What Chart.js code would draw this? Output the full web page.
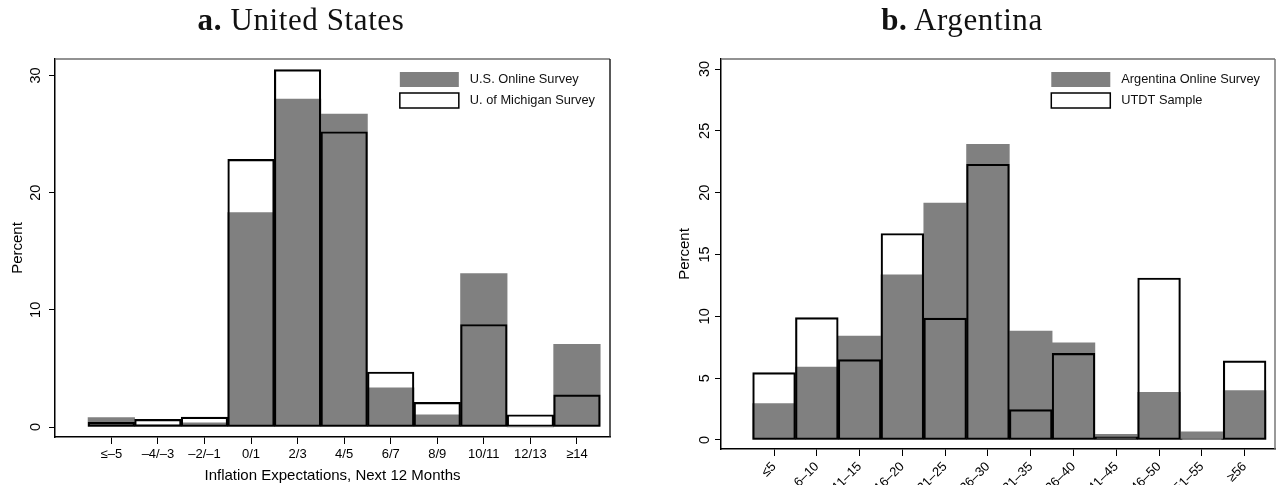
<!DOCTYPE html>
<html>
<head>
<meta charset="utf-8">
<title>Inflation expectations histograms</title>
<script src="https://cdn.jsdelivr.net/npm/chart.js@4.4.0/dist/chart.umd.min.js"></script>
<style>
  html, body { margin: 0; padding: 0; background: #fff; overflow: hidden; }
  #page { position: relative; width: 1280px; height: 485px; }
  .panel { position: absolute; top: 0; width: 640px; height: 485px; }
  .panel canvas { display: block; }
  .title {
    position: absolute; top: 2px; transform: translateX(-50%); white-space: nowrap;
    font-family: "Liberation Serif", "DejaVu Serif", serif; font-size: 31px;
    letter-spacing: 0.6px; color: #111;
  }
</style>
</head>
<body>
<div id="page">
  <div class="panel" style="left:0"><canvas id="usChart" width="640" height="485"></canvas></div>
  <div class="panel" style="left:640px"><canvas id="arChart" width="640" height="485"></canvas></div>
  <div class="title" style="left:301px"><b>a.</b> United States</div>
  <div class="title" style="left:962px"><b>b.</b> Argentina</div>
</div>
<script>
// panel a: United States
const usCategories = ['≤–5', '–4/–3', '–2/–1', '0/1', '2/3', '4/5', '6/7', '8/9', '10/11', '12/13', '≥14'];
const usOnline = [0.8, 0.2, 0.35, 18.3, 28.0, 26.7, 3.35, 1.05, 13.1, 0, 7.05];
const usMichigan = [0.4, 0.65, 0.85, 22.85, 30.5, 25.2, 4.7, 2.1, 8.75, 1.05, 2.75];
const usYTicks = [0, 10, 20, 30];

// panel b: Argentina
const arCategories = ['≤5', '6–10', '11–15', '16–20', '21–25', '26–30', '31–35', '36–40', '41–45', '46–50', '51–55', '≥56'];
const arOnline = [2.95, 5.9, 8.4, 13.35, 19.15, 23.9, 8.8, 7.85, 0.45, 3.85, 0.65, 4.0];
const arUtdt = [5.45, 9.9, 6.5, 16.7, 9.85, 22.3, 2.45, 7.0, 0.25, 13.1, 0.1, 6.4];
const arYTicks = [0, 5, 10, 15, 20, 25, 30];

Chart.defaults.font.family = '"Liberation Sans", Arial, sans-serif';
Chart.defaults.color = '#000';

// top and right edges of the plot region (left/bottom are the axis lines)
const plotFrame = {
  id: 'plotFrame',
  afterDraw(chart, args, opts) {
    const { ctx, chartArea: a } = chart;
    ctx.save();
    ctx.lineWidth = 1.5;
    ctx.strokeStyle = opts.topColor;
    ctx.beginPath(); ctx.moveTo(a.left, a.top); ctx.lineTo(a.right, a.top); ctx.stroke();
    ctx.strokeStyle = opts.rightColor;
    ctx.beginPath(); ctx.moveTo(a.right, a.top); ctx.lineTo(a.right, a.bottom); ctx.stroke();
    ctx.restore();
  }
};

// legend drawn inside the plot, top right
const insideLegend = {
  id: 'insideLegend',
  afterDatasetsDraw(chart) {
    const { ctx, chartArea: a } = chart;
    const sets = chart.data.datasets;
    ctx.save();
    ctx.font = '12.8px "Liberation Sans", Arial, sans-serif';
    const textW = Math.max(...sets.map(d => ctx.measureText(d.label).width));
    const boxW = 59, boxH = 15;
    const textX = a.right - 15 - textW;
    const boxX = textX - 11 - boxW;
    sets.forEach((d, i) => {
      const y = a.top + 13 + i * 21;
      if (d.borderWidth) {
        ctx.lineWidth = 1.5;
        ctx.strokeStyle = d.borderColor;
        ctx.strokeRect(boxX, y, boxW, boxH);
      } else {
        ctx.fillStyle = d.backgroundColor;
        ctx.fillRect(boxX, y, boxW, boxH);
      }
      ctx.fillStyle = '#111';
      ctx.textBaseline = 'middle';
      ctx.fillText(d.label, textX, y + boxH / 2);
    });
    ctx.restore();
  }
};

function histogram(canvasId, o) {
  const toPoints = arr => arr.map((v, i) => ({ x: i, y: v }));
  return new Chart(document.getElementById(canvasId), {
    type: 'bar',
    data: {
      datasets: [
        { label: o.names[0], data: toPoints(o.online), backgroundColor: '#808080', borderWidth: 0, order: 2 },
        { label: o.names[1], data: toPoints(o.other), backgroundColor: 'rgba(0,0,0,0)',
          borderColor: '#000', borderWidth: 1.5, borderSkipped: false, order: 1 }
      ]
    },
    options: {
      responsive: false,
      animation: false,
      layout: { padding: o.padding },
      datasets: { bar: { grouped: false, barPercentage: 1, categoryPercentage: 1 } },
      plugins: {
        legend: { display: false },
        tooltip: { enabled: false },
        plotFrame: { topColor: '#6e6e6e', rightColor: o.rightColor }
      },
      scales: {
        x: {
          type: 'linear',
          offset: false,
          min: o.xMin,
          max: o.xMax,
          afterBuildTicks: s => { s.ticks = o.categories.map((c, i) => ({ value: i })); },
          afterFit: s => { s.height = o.xHeight; },
          grid: { offset: false, drawOnChartArea: false, tickLength: 7, color: '#000' },
          border: { color: '#000', width: 1.5 },
          ticks: {
            callback: v => o.categories[v],
            autoSkip: false,
            minRotation: o.xRot,
            maxRotation: o.xRot,
            padding: 3,
            font: { size: o.xFont }
          },
          title: {
            display: !!o.xTitle,
            text: o.xTitle,
            font: { size: 15 },
            padding: { top: 0, bottom: 0 }
          }
        },
        y: {
          min: o.yMin,
          max: o.yMax,
          afterBuildTicks: s => { s.ticks = o.yTicks.map(v => ({ value: v })); },
          afterFit: s => { s.width = o.yWidth; },
          grid: { drawOnChartArea: false, tickLength: 6, color: '#000' },
          border: { color: '#000', width: 1.5 },
          ticks: {
            minRotation: 90,
            maxRotation: 90,
            crossAlign: 'center',
            padding: o.yPad,
            font: { size: 14.5 }
          },
          title: {
            display: true,
            text: 'Percent',
            font: { size: 15 },
            padding: { top: o.yTitlePad, bottom: 0 }
          }
        }
      }
    },
    plugins: [plotFrame, insideLegend]
  });
}

histogram('usChart', {
  names: ['U.S. Online Survey', 'U. of Michigan Survey'],
  categories: usCategories,
  online: usOnline,
  other: usMichigan,
  yTicks: usYTicks,
  xMin: -1.21, xMax: 10.71,
  yMin: -0.85, yMax: 31.41,
  padding: { top: 59, right: 30, left: 0, bottom: 0 },
  xHeight: 48, yWidth: 55,
  xRot: 0, xFont: 13,
  xTitle: 'Inflation Expectations, Next 12 Months',
  yPad: 5, yTitlePad: 9,
  rightColor: '#222'
});

histogram('arChart', {
  names: ['Argentina Online Survey', 'UTDT Sample'],
  categories: arCategories,
  online: arOnline,
  other: arUtdt,
  yTicks: arYTicks,
  xMin: -1.24, xMax: 11.71,
  yMin: -0.73, yMax: 30.81,
  padding: { top: 59, right: 5, left: 0, bottom: 0 },
  xHeight: 36, yWidth: 81,
  xRot: 45, xFont: 13,
  xTitle: '',
  yPad: 2, yTitlePad: 36,
  rightColor: '#777'
});
</script>
</body>
</html>
